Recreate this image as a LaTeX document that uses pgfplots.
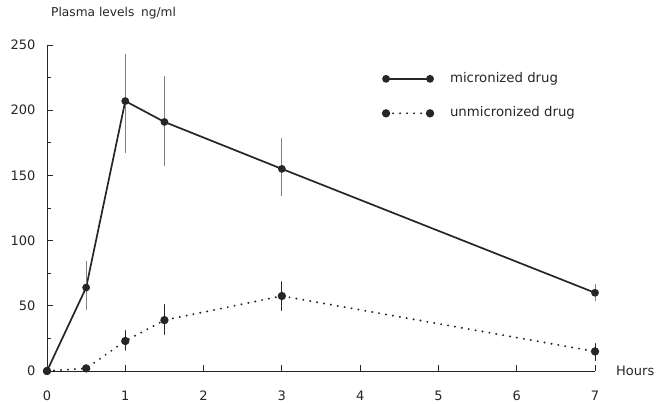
\documentclass[border=0pt]{standalone}
\usepackage{pgfplots}
\pgfplotsset{compat=1.18}
\usepackage{fontspec}
\setmainfont{DejaVu Sans}
\begin{document}
\fontsize{13}{15}\selectfont
\begin{tikzpicture}
\path[use as bounding box] (0,0) rectangle (659pt,404pt);
\begin{axis}[
  at={(47pt,33pt)}, anchor=south west,
  scale only axis, width=548pt, height=326pt,
  xmin=0, xmax=7, ymin=0, ymax=250,
  axis lines=left, axis line style={-, line width=0.9pt, black!85},
  xtick={0,...,7}, ytick={0,50,...,250}, minor ytick={25,75,...,225},
  tick style={black!85, line width=0.8pt},
  major tick length=6pt, minor tick length=3.5pt,
  tick align=inside,
  xticklabel style={yshift=-15pt},
  yticklabel style={xshift=-7pt},
  /pgf/number format/assume math mode=true,
  ticklabel style={font=\fontsize{13}{15}\selectfont, text=black!85},
  xlabel={Hours},
  xlabel style={at={(axis description cs:1,0)}, anchor=west, xshift=21pt, inner sep=0pt, text=black!85},
  title={Plasma levels\hspace{0.55em}ng/ml},
  title style={at={(axis description cs:0,1)}, anchor=base west, xshift=4pt, yshift=22pt, inner sep=0pt, text=black!85, font=\fontsize{12.2}{15}\selectfont},
  clip=false,
  legend style={draw=none, fill=none, at={(axis cs:4.29,229)}, anchor=north west,
    inner sep=0pt, row sep=22pt,
    font=\fontsize{13.3}{15}\selectfont,
    nodes={inner sep=0pt, text height=9.5pt, text depth=3pt, text=black!85},
    /tikz/every odd column/.append style={column sep=17pt}},
  legend cell align=left,
  legend image code/.code={\draw[mark repeat=1,#1] plot coordinates {(0pt,0pt) (44pt,0pt)};},
]
\addplot[black!85, line width=1.7pt, mark=*, mark size=3pt, mark options={solid},
  error bars/.cd, y dir=both, y explicit, error mark=none,
  error bar style={line width=0.8pt, gray, solid}]
  coordinates {
  (0,0) +- (0,0)
  (0.5,64) += (0,20) -= (0,17)
  (1,207) += (0,36) -= (0,40)
  (1.5,191) += (0,35) -= (0,34)
  (3,155) += (0,24) -= (0,21)
  (7,60) += (0,7) -= (0,6)
  };
\addlegendentry{micronized drug}
\addplot[black!85, line width=2.2pt, line cap=round, dash pattern=on 0pt off 7pt,
  mark=*, mark size=3pt, mark options={solid},
  error bars/.cd, y dir=both, y explicit, error mark=none,
  error bar style={line width=0.8pt, black!85, solid}]
  coordinates {
  (0,0) +- (0,0)
  (0.5,2) +- (0,0)
  (1,23) += (0,8) -= (0,7)
  (1.5,39) += (0,12) -= (0,11)
  (3,57.5) += (0,11) -= (0,11)
  (7,15) += (0,6) -= (0,7)
  };
\addlegendentry{unmicronized drug}
\end{axis}
\end{tikzpicture}
\end{document}
